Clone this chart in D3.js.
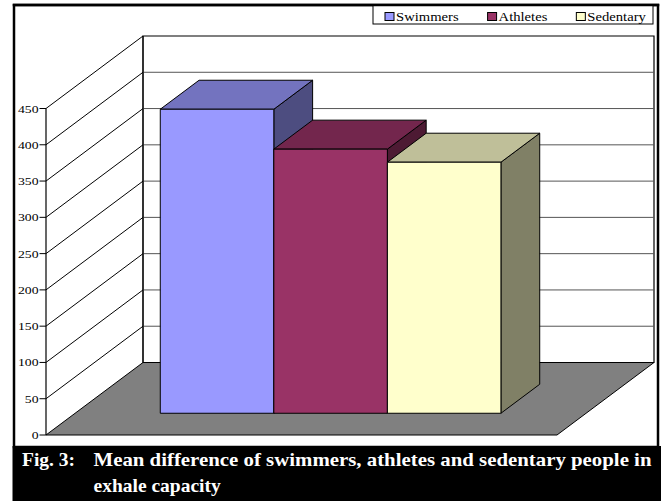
<!DOCTYPE html>
<html>
<head>
<meta charset="utf-8">
<script src="https://cdn.jsdelivr.net/npm/d3@7/dist/d3.min.js"></script>
<style>
  html, body { margin: 0; padding: 0; background: #fff; }
  svg { display: block; }
</style>
</head>
<body>
<svg id="chart" width="661" height="501"></svg>
<script>
// Mean exhale capacity per group
const categories = ["Swimmers", "Athletes", "Sedentary"];
const values = [419, 364, 346];
const frontColors = ["#9999FF", "#993366", "#FFFFCC"];
const yTicks = [0, 50, 100, 150, 200, 250, 300, 350, 400, 450];
const captionLabel = "Fig. 3:";
const captionLines = ["Mean difference of swimmers, athletes and sedentary people in", "exhale capacity"];

const W = 661, H = 501;
const FONT = "Liberation Serif";
const svg = d3.select("#chart");

// Plot geometry (oblique 3-D projection)
const floorLeft = 46, floorRight = 557;   // front edge of the floor
const depthDX = 97, depthDY = 72.5;       // offset of the back wall
const y = d3.scaleLinear().domain([0, 450]).range([435, 108.5]);
const x = d3.scaleBand().domain(categories).range([floorLeft, floorRight])
  .paddingInner(0).paddingOuter(0.75);
const z = d3.scaleLinear().domain([0, 1]).range([0, 1]);

// project a point: front-plane x, value, depth fraction
const P = (px, v, d) => [px + z(d) * depthDX, y(v) - z(d) * depthDY];
const poly = pts => "M" + pts.map(p => p.join(",")).join("L") + "Z";

// Side wall
svg.append("path")
  .attr("d", poly([P(floorLeft, 0, 0), P(floorLeft, 450, 0), P(floorLeft, 450, 1), P(floorLeft, 0, 1)]))
  .attr("fill", "#fff").attr("stroke", "none");

// Back wall
svg.append("path")
  .attr("d", poly([P(floorLeft, 0, 1), P(floorLeft, 450, 1), P(floorRight, 450, 1), P(floorRight, 0, 1)]))
  .attr("fill", "#fff").attr("stroke", "#000").attr("stroke-width", 1.2);

// Gridlines on back wall
svg.append("g").selectAll("line").data(yTicks.filter(t => t > 0 && t < 450)).join("line")
  .attr("x1", d => P(floorLeft, d, 1)[0]).attr("y1", d => P(floorLeft, d, 1)[1])
  .attr("x2", d => P(floorRight, d, 1)[0]).attr("y2", d => P(floorRight, d, 1)[1])
  .attr("stroke", "#555").attr("stroke-width", 1);

// Gridlines on side wall
svg.append("g").selectAll("line").data(yTicks.filter(t => t > 0)).join("line")
  .attr("x1", d => P(floorLeft, d, 0)[0]).attr("y1", d => P(floorLeft, d, 0)[1])
  .attr("x2", d => P(floorLeft, d, 1)[0]).attr("y2", d => P(floorLeft, d, 1)[1])
  .attr("stroke", "#000").attr("stroke-width", 1);

// Back wall left edge
svg.append("line")
  .attr("x1", P(floorLeft, 0, 1)[0]).attr("y1", P(floorLeft, 0, 1)[1])
  .attr("x2", P(floorLeft, 450, 1)[0]).attr("y2", P(floorLeft, 450, 1)[1])
  .attr("stroke", "#000").attr("stroke-width", 1);

// Floor
svg.append("path")
  .attr("d", poly([P(floorLeft, 0, 0), P(floorRight, 0, 0), P(floorRight, 0, 1), P(floorLeft, 0, 1)]))
  .attr("fill", "#808080").attr("stroke", "#000").attr("stroke-width", 1).attr("stroke-linejoin", "round");

// Value axis
const axis = svg.append("g");
axis.append("line")
  .attr("x1", floorLeft).attr("x2", floorLeft).attr("y1", y(0)).attr("y2", y(450))
  .attr("stroke", "#000").attr("stroke-width", 1.2);
axis.selectAll("line.tick").data(yTicks).join("line").attr("class", "tick")
  .attr("x1", floorLeft - 6.5).attr("x2", floorLeft).attr("y1", d => y(d)).attr("y2", d => y(d))
  .attr("stroke", "#000").attr("stroke-width", 1);
axis.selectAll("text").data(yTicks).join("text")
  .attr("transform", d => `translate(${floorLeft - 7.5},${y(d) + 4}) scale(1.25,1)`)
  .attr("text-anchor", "end").attr("font-size", 11).attr("fill", "#000")
  .style("font-family", FONT)
  .text(d => d);

// Bars (left to right so each one hides the previous one's side)
const shade = (c, k) => { const r = d3.rgb(c); return d3.rgb(r.r * k, r.g * k, r.b * k).formatHex(); };
const d0 = 0.3, d1 = 0.7;
const bars = svg.append("g");
categories.forEach((cat, i) => {
  const v = values[i];
  const xl = x(cat), xr = x(cat) + x.bandwidth();
  const g = bars.append("g");
  g.append("path") // right side
    .attr("d", poly([P(xr, 0, d0), P(xr, v, d0), P(xr, v, d1), P(xr, 0, d1)]))
    .attr("fill", shade(frontColors[i], 0.5));
  g.append("path") // top
    .attr("d", poly([P(xl, v, d0), P(xr, v, d0), P(xr, v, d1), P(xl, v, d1)]))
    .attr("fill", shade(frontColors[i], 0.75));
  g.append("path") // front
    .attr("d", poly([P(xl, 0, d0), P(xr, 0, d0), P(xr, v, d0), P(xl, v, d0)]))
    .attr("fill", frontColors[i]);
  g.selectAll("path").attr("stroke", "#000").attr("stroke-width", 1).attr("stroke-linejoin", "round");
});

// Outer frame
svg.append("rect").attr("x", 14).attr("y", 5).attr("width", 644).attr("height", 442)
  .attr("fill", "none").attr("stroke", "#000").attr("stroke-width", 2.5);

// Legend
const legend = svg.append("g");
legend.append("rect").attr("x", 373).attr("y", 5).attr("width", 280).attr("height", 19)
  .attr("fill", "#fff").attr("stroke", "#000").attr("stroke-width", 1);
let lx = 385;
categories.forEach((cat, i) => {
  legend.append("rect").attr("x", lx).attr("y", 12.5).attr("width", 9).attr("height", 8)
    .attr("fill", frontColors[i]).attr("stroke", "#000").attr("stroke-width", 1);
  const t = legend.append("text")
    .attr("transform", `translate(${lx + 11},20.5) scale(1.22,1)`)
    .attr("font-size", 12).attr("fill", "#000").style("font-family", FONT).text(cat);
  lx += 11 + t.node().getComputedTextLength() * 1.22 + 29;
});
// redraw the frame's top edge over the legend box
svg.append("line").attr("x1", 12.75).attr("x2", 659.25).attr("y1", 5).attr("y2", 5)
  .attr("stroke", "#000").attr("stroke-width", 2.5);

// Caption
svg.append("rect").attr("x", 12.5).attr("y", 446).attr("width", W - 12.5).attr("height", H - 446)
  .attr("fill", "#000");
const cap = svg.append("g").attr("fill", "#fff").attr("font-weight", "bold").attr("font-size", 19.5)
  .style("font-family", FONT);
cap.append("text").attr("x", 22).attr("y", 465.5).text(captionLabel);
cap.append("text").attr("x", 93.5).attr("y", 465.5)
  .attr("textLength", 558).attr("lengthAdjust", "spacingAndGlyphs").text(captionLines[0]);
cap.append("text").attr("x", 93.5).attr("y", 491.5).text(captionLines[1]);
</script>
</body>
</html>
